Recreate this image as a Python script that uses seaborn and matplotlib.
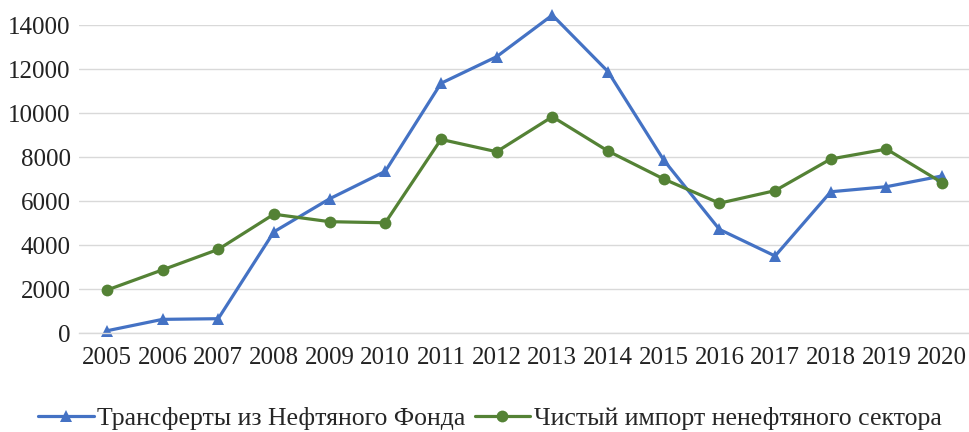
import matplotlib
matplotlib.use("Agg")
import matplotlib.pyplot as plt
import seaborn as sns
import pandas as pd
import numpy as np

years = [2005, 2006, 2007, 2008, 2009, 2010, 2011, 2012, 2013, 2014, 2015, 2016, 2017, 2018, 2019, 2020]
transfers = [100, 620, 650, 4600, 6100, 7350, 11350, 12560, 14450, 11880, 7860, 4710, 3500, 6420, 6650, 7140]
net_import = [1950, 2870, 3800, 5400, 5060, 5010, 8800, 8240, 9830, 8270, 7000, 5900, 6470, 7910, 8360, 6830]
label_transfers = "Трансферты из Нефтяного Фонда"
label_import = "Чистый импорт ненефтяного сектора"
y_ticks = [0, 2000, 4000, 6000, 8000, 10000, 12000, 14000]

sns.set_style("white")
plt.rcParams['font.family'] = ['Liberation Serif', 'DejaVu Serif']

df = pd.DataFrame({
    "pos": list(range(len(years))) * 2,
    "value": transfers + net_import,
    "series": [label_transfers] * len(years) + [label_import] * len(years),
})

fig = plt.figure(figsize=(9.7, 4.32), dpi=100)
ax = fig.add_axes([79 / 970, 1 - 333 / 432, 891 / 970, (333 - 25) / 432])

palette = {label_transfers: "#4472C4", label_import: "#548235"}
markers = {label_transfers: "^", label_import: "o"}
sns.lineplot(data=df, x="pos", y="value", hue="series", style="series",
             palette=palette, markers=markers, dashes=False, linewidth=2.3,
             markersize=8.5, markeredgewidth=0, ax=ax, clip_on=False, legend=True)

ax.set_xlim(-0.5, len(years) - 0.5)
ax.set_ylim(0, 14000)
ax.set_yticks(y_ticks)
ax.set_yticklabels([str(v) for v in y_ticks])
ax.set_xticks(range(len(years)))
ax.set_xticklabels([str(y) for y in years])
ax.set_xticks(np.arange(-0.5, len(years), 1.0), minor=True)
ax.tick_params(axis="x", which="major", length=0, pad=10, labelsize=18, colors="#222222")
ax.tick_params(axis="x", which="minor", length=7, width=1, color="#D9D9D9")
ax.tick_params(axis="y", length=0, pad=6, labelsize=18, colors="#222222")
ax.grid(axis="y", color="#D9D9D9", linewidth=1)
ax.set_axisbelow(True)
for s in ["left", "right", "top"]:
    ax.spines[s].set_visible(False)
ax.spines["bottom"].set_color("#D9D9D9")
ax.spines["bottom"].set_linewidth(1)
ax.set_xlabel("")
ax.set_ylabel("")

handles, labels = ax.get_legend_handles_labels()
ax.legend(handles=handles, labels=labels, loc="center", bbox_to_anchor=(490 / 970, 1 - 418 / 432),
          bbox_transform=fig.transFigure, ncol=2, frameon=False, fontsize=18.5,
          handlelength=2.15, handletextpad=0.15, columnspacing=0.35)

fig.savefig("out.png", dpi=100)
